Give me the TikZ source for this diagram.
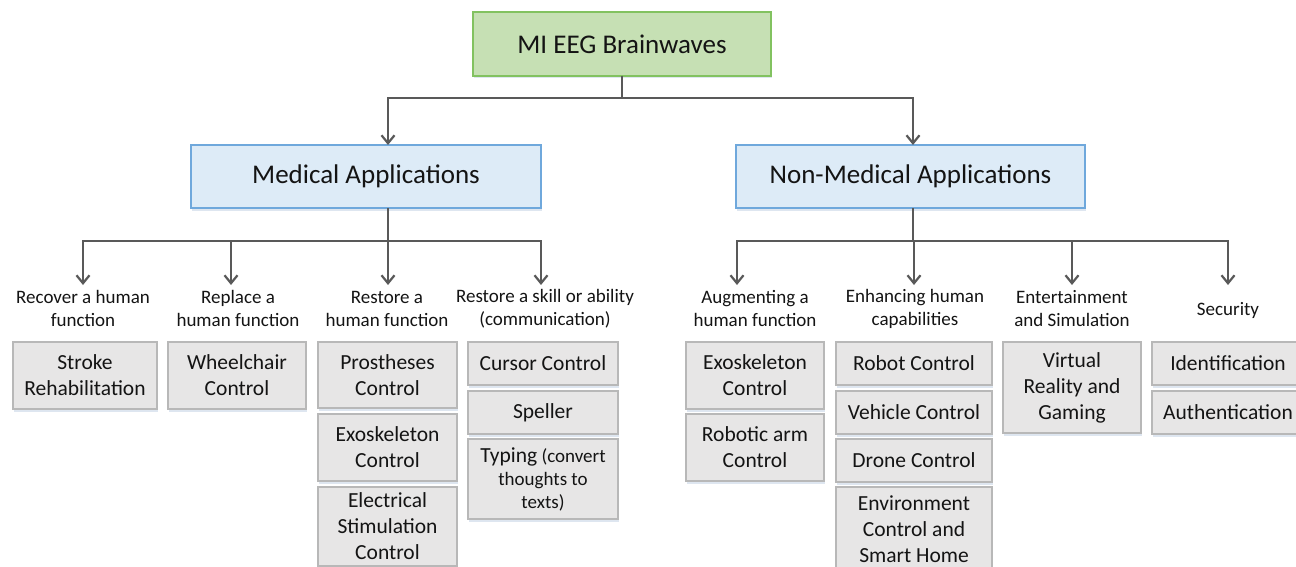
\documentclass[tikz,border=0pt]{standalone}
\usepackage{fontspec}
\setmainfont{Carlito}
\usetikzlibrary{arrows.meta,shadows}

\definecolor{rootfill}{HTML}{C6E0B4}
\definecolor{rootline}{HTML}{82C260}
\definecolor{appfill}{HTML}{DDEBF7}
\definecolor{appline}{HTML}{6FA8DC}
\definecolor{leaffill}{HTML}{E7E6E6}
\definecolor{leafline}{HTML}{B8B8B8}
\definecolor{linegray}{HTML}{595959}
\definecolor{shadowc}{HTML}{C9D6E6}
\definecolor{txt}{HTML}{141414}

\newcommand\bigfont{\fontsize{27}{32}\selectfont}
\newcommand\leaffont{\fontsize{21.5}{26}\selectfont}
\newcommand\catfont{\fontsize{19}{23}\selectfont}

\begin{document}
\begin{tikzpicture}[x=1pt,y=-1pt,
  every node/.style={text=txt},
  conn/.style={draw=linegray, line width=2.2pt},
  arr/.style={conn, -{Straight Barb[length=8pt,width=13pt]}},
  wh/.style 2 args={minimum width=#1pt, minimum height=#2pt},
  box/.style={draw, line width=1.3pt, inner sep=0pt, outer sep=0pt, align=center,
    anchor=north west,
    drop shadow={shadow xshift=0.8pt, shadow yshift=-2.5pt, fill=shadowc, opacity=0.6}},
  rootbox/.style={box, fill=rootfill, draw=rootline, font=\bigfont},
  appbox/.style={box, fill=appfill, draw=appline, font=\bigfont},
  leaf/.style={box, fill=leaffill, draw=leafline, font=\leaffont},
  cat/.style={inner sep=0pt, align=center, font=\catfont}]

\fill[white] (0,0) rectangle (1296,567);
\useasboundingbox (0,0) rectangle (1296,567);

% top levels
\node[rootbox, wh={298}{64}] (root) at (473,12) {MI EEG Brainwaves};
\node[appbox, wh={350}{63}] (med) at (191,145) {Medical Applications};
\node[appbox, wh={349}{63}] (non) at (736,145) {Non-Medical Applications};

\coordinate (j0) at (622,98);
\coordinate (medin) at (388,145);
\coordinate (nonin) at (913,145);
\coordinate (medout) at (388,208);
\coordinate (nonout) at (913,208);
\coordinate (mbus) at (388,241);
\coordinate (nbus) at (913,241);

\draw[arr] (root.south) -- (j0) -| (medin);
\draw[arr] (root.south) -- (j0) -| (nonin);

% category labels
\node[cat] (c1) at (83,308.5) {Recover a human\\function};
\node[cat] (c2) at (238,308.5) {Replace a\\human function};
\node[cat] (c3) at (387,308.5) {Restore a\\human function};
\node[cat] (c4) at (545,308.5) {Restore a skill or ability\\(communication)};
\node[cat] (c5) at (755,308.5) {Augmenting a\\human function};
\node[cat] (c6) at (915,308.5) {Enhancing human\\capabilities};
\node[cat] (c7) at (1072,308.5) {Entertainment\\and Simulation};
\node[cat] (c8) at (1228,310) {Security};

\coordinate (t1) at (83,285);
\coordinate (t2) at (231,285);
\coordinate (t3) at (388,285);
\coordinate (t4) at (541,285);
\coordinate (u1) at (737,285);
\coordinate (u2) at (914,285);
\coordinate (u3) at (1072,285);
\coordinate (u4) at (1228,285);

\foreach \t in {t1,t2,t3,t4}
  \draw[arr] (medout) -- (mbus) -| (\t);
\foreach \t in {u1,u2,u3,u4}
  \draw[arr] (nonout) -- (nbus) -| (\t);

% medical leaves
\node[leaf, wh={144}{67}] (s1) at (13,342) {Stroke\\Rehabilitation};
\node[leaf, wh={138}{67}] (s2) at (168,342) {Wheelchair\\Control};
\node[leaf, wh={139}{66}] (s3a) at (318,342) {Prostheses\\Control};
\node[leaf, wh={139}{67}] (s3b) at (318,414) {Exoskeleton\\Control};
\node[leaf, wh={139}{79}] (s3c) at (318,487) {Electrical\\Stimulation\\Control};
\node[leaf, wh={150}{43}] (s4a) at (468,342) {Cursor Control};
\node[leaf, wh={150}{43}] (s4b) at (468,391) {Speller};
\node[leaf, wh={150}{80}, font=\catfont] (s4c) at (468,439)
  {{\leaffont Typing} (convert\\thoughts to\\texts)};

% non-medical leaves
\node[leaf, wh={138}{67}] (n1a) at (686,342) {Exoskeleton\\Control};
\node[leaf, wh={138}{67}] (n1b) at (686,414) {Robotic arm\\Control};
\node[leaf, wh={156}{43}] (n2a) at (836,342) {Robot Control};
\node[leaf, wh={156}{43}] (n2b) at (836,391) {Vehicle Control};
\node[leaf, wh={156}{43}] (n2c) at (836,439) {Drone Control};
\node[leaf, wh={156}{84}] (n2d) at (836,487) {Environment\\Control and\\Smart Home};
\node[leaf, wh={138}{91}] (n3) at (1003,342) {Virtual\\Reality and\\Gaming};
\node[leaf, wh={152}{43}] (n4a) at (1152,342) {Identification};
\node[leaf, wh={152}{43}] (n4b) at (1152,391) {Authentication};
\end{tikzpicture}
\end{document}
